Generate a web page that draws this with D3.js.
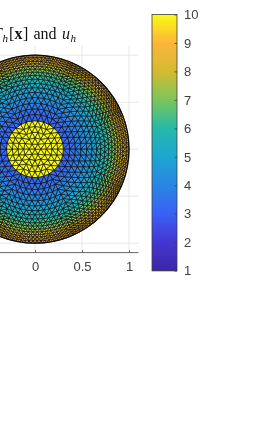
<!DOCTYPE html>
<html><head><meta charset="utf-8">
<script src="https://cdn.jsdelivr.net/npm/d3@7"></script>
<style>html,body{margin:0;padding:0;background:#fff;overflow:hidden}svg{display:block;filter:blur(0.25px)}</style>
</head><body><svg id="c" width="264" height="423"></svg>
<script>
// Data
const xTicks = [0, 0.5, 1];
const xGrid = [-0.5, 0, 0.5, 1];
const yGrid = [-1, -0.5, 0, 0.5, 1];
const colorbarTicks = [1,2,3,4,5,6,7,8,9,10];
const parulaStops = ["#3e26a8","#4636d2","#3a62f4","#2a86e4","#1ea6d2","#27b9a8","#7cc65c","#d4bb30","#fcb63c","#f9fb15"];
const innerRadii = [0, 0.062, 0.122, 0.182, 0.242, 0.303];
const innerCounts = [1, 6, 12, 18, 24, 30];
const outerRadii = [0.37, 0.43, 0.49, 0.55, 0.605, 0.655, 0.70, 0.745, 0.785, 0.82, 0.853, 0.883, 0.91, 0.935, 0.957, 0.978, 1.0];
const outerCounts = [36, 42, 48, 54, 60, 66, 72, 80, 88, 96, 104, 112, 120, 128, 136, 144, 152];
const profileRadii = [0.303, 0.4, 0.5, 0.6, 0.7, 0.8, 0.9, 1.0];
const profileValues = [3.0, 3.4, 4.0, 4.7, 5.5, 6.5, 8.0, 9.1];
const insideValue = 10;

const svg = d3.select("#c");
const x = d3.scaleLinear().domain([-1.1,1.1]).range([-68.4,138.4]);
const y = d3.scaleLinear().domain([-1.1,1.1]).range([252.6,45.8]);
const color = d3.scaleLinear().domain(colorbarTicks).range(parulaStops).interpolate(d3.interpolateRgb);
const profile = d3.scaleLinear().domain(profileRadii).range(profileValues).clamp(true);
const ink = "#404040";

// grid
svg.append("g").selectAll("line").data(xGrid).join("line")
  .attr("x1",d=>x(d)).attr("x2",d=>x(d)).attr("y1",y(1.1)).attr("y2",y(-1.1))
  .attr("stroke","#e4e4e4").attr("stroke-width",0.9);
svg.append("g").selectAll("line").data(yGrid).join("line")
  .attr("x1",x(-1.1)).attr("x2",x(1.1)).attr("y1",d=>y(d)).attr("y2",d=>y(d))
  .attr("stroke","#e4e4e4").attr("stroke-width",0.9);

// mesh
const radii = innerRadii.concat(outerRadii), counts = innerCounts.concat(outerCounts);
const nodes = [];
radii.forEach((r,i)=>{ d3.range(counts[i]).forEach(k=>{
  const a = 2*Math.PI*(k+(i%2)*0.5)/counts[i] + Math.PI/2;
  nodes.push([r*Math.cos(a), r*Math.sin(a)]);
});});
const dl = d3.Delaunay.from(nodes);
const tris = d3.range(dl.triangles.length/3).map(t=>[0,1,2].map(j=>nodes[dl.triangles[3*t+j]]));
const gm = svg.append("g");
gm.selectAll("path").data(tris).join("path")
  .attr("d",t=>"M"+t.map(p=>[x(p[0]),y(p[1])].join(",")).join("L")+"Z")
  .attr("fill",t=>{
    const cx=d3.mean(t,p=>p[0]), cy=d3.mean(t,p=>p[1]), r=Math.hypot(cx,cy);
    return color(r<0.29?insideValue:profile(r));
  })
  .attr("stroke","#0a0a0a").attr("stroke-width",0.65).attr("stroke-linejoin","round");
svg.append("circle").attr("cx",x(0)).attr("cy",y(0)).attr("r",x(1)-x(0))
  .attr("fill","none").attr("stroke","#0a0a0a").attr("stroke-width",1.2);

// x axis
const ax = svg.append("g").attr("transform",`translate(0,${y(-1.1)})`)
  .call(d3.axisBottom(x).tickValues(xTicks).tickSize(-2.5).tickPadding(9.5).tickFormat(d3.format("")));
ax.select(".domain").attr("stroke",ink).attr("stroke-width",0.8).attr("d",`M${x(-1.1)},0H${x(1.1)}`);
ax.selectAll(".tick line").attr("stroke",ink).attr("stroke-width",0.8);
ax.selectAll("text").attr("fill",ink).attr("font-family","Liberation Sans").attr("font-size",13);

// colorbar
const cy = d3.scaleLinear().domain([1,10]).range([270.7,14.5]);
const steps = d3.range(1,10,9/256);
svg.append("g").selectAll("rect").data(steps).join("rect")
  .attr("x",152).attr("width",25)
  .attr("y",d=>cy(d+9/256)).attr("height",d=>cy(d)-cy(d+9/256)+0.5)
  .attr("fill",d=>color(d));
svg.append("rect").attr("x",152).attr("y",14.5).attr("width",25).attr("height",256.2)
  .attr("fill","none").attr("stroke",ink).attr("stroke-width",0.8);
const bar = svg.append("g").attr("transform","translate(177,0)")
  .call(d3.axisRight(cy).tickValues(colorbarTicks).tickSize(-2.5).tickPadding(7).tickFormat(d3.format("d")));
bar.select(".domain").remove();
bar.selectAll(".tick line").attr("stroke",ink).attr("stroke-width",0.8);
bar.selectAll("text").attr("fill",ink).attr("font-family","Liberation Sans").attr("font-size",13);

// title
const title = svg.append("text").attr("y",38.5).attr("fill","#111")
  .attr("font-family","Liberation Serif").attr("font-size",16);
title.append("tspan").attr("x",-7).attr("font-style","italic").text("T");
title.append("tspan").attr("x",2.5).attr("font-style","italic").attr("font-size",11).attr("dy",3).text("h");
title.append("tspan").attr("x",9).attr("dy",-3).text("[");
title.append("tspan").attr("x",14.5).attr("font-weight","bold").text("x");
title.append("tspan").attr("x",23).text("]");
title.append("tspan").attr("x",33.5).text("and");
title.append("tspan").attr("x",62).attr("font-style","italic").text("u");
title.append("tspan").attr("x",70.5).attr("font-style","italic").attr("font-size",11).attr("dy",3).text("h");
</script></body></html>
